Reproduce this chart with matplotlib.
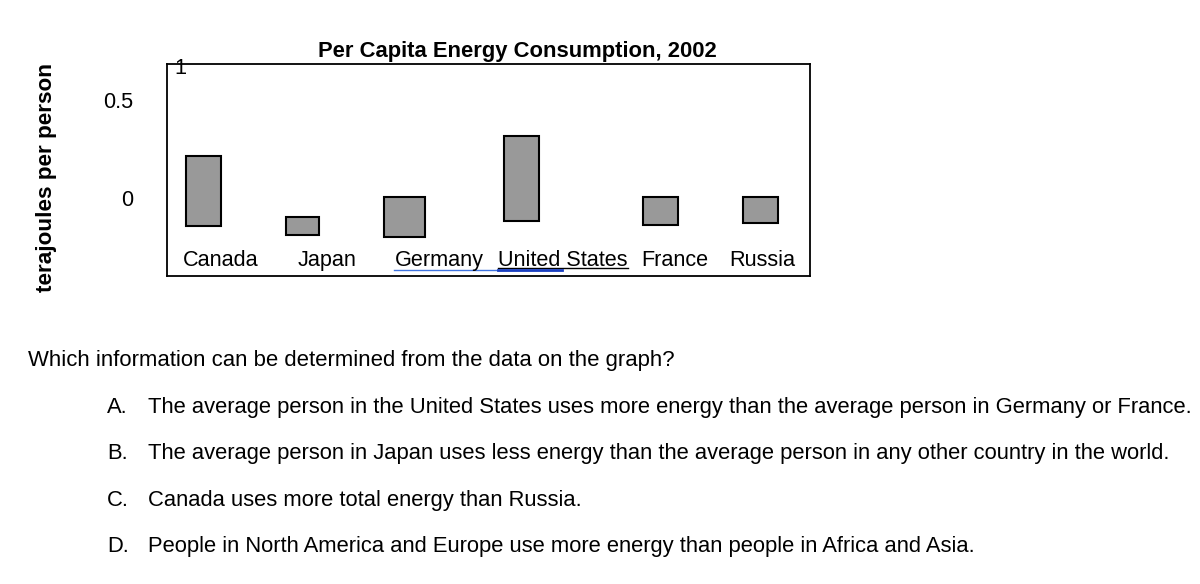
import matplotlib
matplotlib.use("Agg")
import matplotlib.pyplot as plt
from matplotlib.lines import Line2D

plt.rcParams['font.family'] = ['Liberation Sans', 'DejaVu Sans']

# ---- data (terajoules per person, floating bars as drawn) ----
countries = ["Canada", "Japan", "Germany", "United States", "France", "Russia"]
bar_top = [0.214, -0.095, 0.007, 0.316, 0.007, 0.007]
bar_bottom = [-0.143, -0.187, -0.197, -0.117, -0.138, -0.129]
ytick_values = [0, 0.5]
ytick_labels = ["0", "0.5"]
title = "Per Capita Energy Consumption, 2002"
ylabel = "terajoules per person"
question = "Which information can be determined from the data on the graph?"
option_letters = ["A.", "B.", "C.", "D."]
options = [
    "The average person in the United States uses more energy than the average person in Germany or France.",
    "The average person in Japan uses less energy than the average person in any other country in the world.",
    "Canada uses more total energy than Russia.",
    "People in North America and Europe use more energy than people in Africa and Asia.",
]

# ---- layout (pixels) ----
W, H = 1200, 584
fig = plt.figure(figsize=(W / 100, H / 100), dpi=100)

def fx(x):
    return x / W

def fy(y):
    return 1 - y / H

ax_l, ax_r, ax_t, ax_b = 166.7, 810, 64, 276
ax = fig.add_axes([fx(ax_l), fy(ax_b), (ax_r - ax_l) / W, (ax_b - ax_t) / H])

bar_x = [203.5, 302.5, 404.5, 521, 660.5, 760.5]
bar_w = [35, 33, 41, 35, 35, 35]
label_x = [221, 327, 439, 563, 675, 762]

xs = [b - ax_l for b in bar_x]
heights = [t - b for t, b in zip(bar_top, bar_bottom)]
ax.bar(xs, heights, bottom=bar_bottom, width=bar_w, color="#999999",
       edgecolor="black", linewidth=1.5, zorder=3)
ax.set_xlim(0, ax_r - ax_l)
ax.set_ylim(-0.398, 0.684)
ax.set_xticks([])
ax.set_yticks(ytick_values)
ax.set_yticklabels(ytick_labels, fontsize=15.6)
ax.tick_params(axis="y", length=0, pad=24)
for s in ax.spines.values():
    s.set_linewidth(1.3)

for lx, name in zip(label_x, countries):
    fig.text(fx(lx), fy(266), name, ha="center", va="baseline", fontsize=15.6)

# underlines (spell-check style)
fig.add_artist(Line2D([fx(394), fx(562)], [fy(269.8), fy(269.8)], color="#3f74e0", lw=1.0))
fig.add_artist(Line2D([fx(498), fx(628)], [fy(268.3), fy(268.3)], color="black", lw=1.0))
fig.add_artist(Line2D([fx(498), fx(562)], [fy(269.5), fy(269.5)], color="#1a3fc0", lw=2.0))

# stray "1" at the top
fig.text(fx(180), fy(74), "1", ha="center", va="baseline", fontsize=15.6)

# title and y label
fig.text(fx(517.5), fy(56.7), title, ha="center", va="baseline", fontsize=15.8, fontweight="bold")
fig.text(fx(47), fy(177), ylabel, ha="center", va="center", rotation=90,
         fontsize=16.2, fontweight="bold")

# question block
fig.text(fx(28.5), fy(366), question, ha="left", va="baseline", fontsize=15.9)
line_y = [413.3, 459.3, 505.7, 552.3]
for y, letter, opt in zip(line_y, option_letters, options):
    fig.text(fx(107), fy(y), letter, ha="left", va="baseline", fontsize=15.8)
    fig.text(fx(147.7), fy(y), opt, ha="left", va="baseline", fontsize=15.8)

fig.savefig("out.png", dpi=100)
